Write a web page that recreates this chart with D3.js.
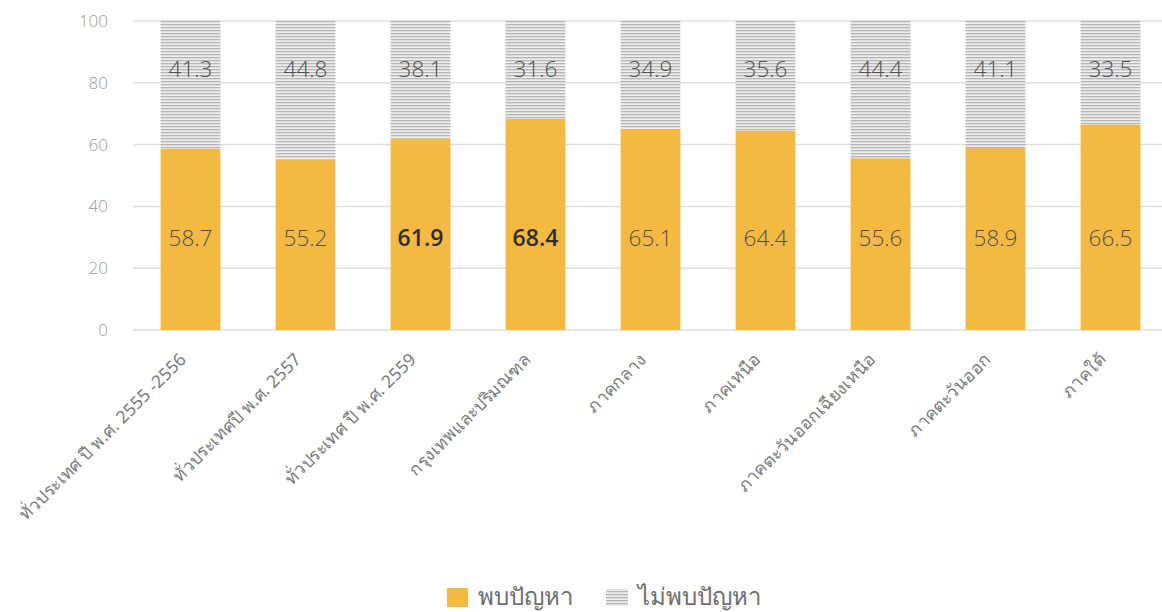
<!DOCTYPE html>
<html>
<head>
<meta charset="utf-8">
<script src="https://cdn.jsdelivr.net/npm/d3@7"></script>
<style>
  html, body { margin: 0; padding: 0; background: #fff; }
  svg { display: block; font-family: "Noto Sans", "Open Sans", sans-serif; }
</style>
</head>
<body>
<svg id="chart" width="1162" height="612"></svg>
<script>
// Survey groups (x categories)
const categories = [
  "ทั่วประเทศ ปี พ.ศ. 2555 -2556",
  "ทั่วประเทศปี พ.ศ. 2557",
  "ทั่วประเทศ ปี พ.ศ. 2559",
  "กรุงเทพและปริมณฑล",
  "ภาคกลาง",
  "ภาคเหนือ",
  "ภาคตะวันออกเฉียงเหนือ",
  "ภาคตะวันออก",
  "ภาคใต้"
];
// Share reporting a problem / no problem (%)
const foundProblem = [58.7, 55.2, 61.9, 68.4, 65.1, 64.4, 55.6, 58.9, 66.5];
const noProblem    = [41.3, 44.8, 38.1, 31.6, 34.9, 35.6, 44.4, 41.1, 33.5];
// Values shown in bold
const emphasised = [false, false, true, true, false, false, false, false, false];
const yTicks = [0, 20, 40, 60, 80, 100];
const seriesNames = ["พบปัญหา", "ไม่พบปัญหา"];

const numFont = "'Open Sans', 'Noto Sans', sans-serif";
const svg = d3.select("#chart");

const x = d3.scaleBand().domain(categories).range([133, 1168])
  .paddingInner(0.48).paddingOuter(0.24);
const y = d3.scaleLinear().domain([0, 100]).range([330, 21]);

// Horizontal hatch for the "no problem" segment
const defs = svg.append("defs");
const pat = defs.append("pattern").attr("id", "hatch")
  .attr("patternUnits", "userSpaceOnUse").attr("width", 6).attr("height", 3);
pat.append("rect").attr("width", 6).attr("height", 3).attr("fill", "#eeeeee");
pat.append("rect").attr("width", 6).attr("height", 1.3).attr("fill", "#b4b4b4");

// Gridlines and y labels
const yAxis = d3.axisLeft(y).tickValues(yTicks).tickSize(0).tickPadding(0);
svg.append("g").attr("transform", "translate(108,0)").call(yAxis)
  .call(g => g.select(".domain").remove())
  .call(g => g.selectAll("text").attr("fill", "#999")
    .attr("font-size", 17).attr("font-family", numFont)
    .attr("font-weight", 300));
svg.append("g").selectAll("line").data(yTicks).join("line")
  .attr("x1", 133).attr("x2", 1162)
  .attr("y1", d => y(d)).attr("y2", d => y(d))
  .attr("stroke", "#dedede").attr("stroke-width", 1.5);

const rows = categories.map((c, i) => ({
  c, a: foundProblem[i], b: noProblem[i], bold: emphasised[i]
}));

// Stacked bars
const bars = svg.append("g");
bars.selectAll("rect.a").data(rows).join("rect").attr("class", "a")
  .attr("x", d => x(d.c)).attr("width", x.bandwidth())
  .attr("y", d => y(d.a)).attr("height", d => y(0) - y(d.a))
  .attr("fill", "#F4B942");
bars.selectAll("rect.b").data(rows).join("rect").attr("class", "b")
  .attr("x", d => x(d.c)).attr("width", x.bandwidth())
  .attr("y", d => y(d.a + d.b)).attr("height", d => y(d.a) - y(d.a + d.b))
  .attr("fill", "url(#hatch)");

// Value labels
const lab = svg.append("g").attr("text-anchor", "middle")
  .attr("font-family", numFont).style("font-stretch", "90%");
lab.selectAll("text.a").data(rows).join("text").attr("class", "a")
  .attr("x", d => x(d.c) + x.bandwidth() / 2)
  .attr("y", y(29.8)).attr("dy", "0.36em")
  .attr("font-size", d => d.bold ? 23 : 22.5)
  .attr("font-weight", d => d.bold ? 600 : 300)
  .attr("fill", d => d.bold ? "#2e2e2e" : "#505050")
  .text(d => d.a.toFixed(1));
lab.selectAll("text.b").data(rows).join("text").attr("class", "b")
  .attr("x", d => x(d.c) + x.bandwidth() / 2)
  .attr("y", y(84.5)).attr("dy", "0.36em")
  .attr("font-size", 22.5).attr("font-weight", 300).attr("fill", "#505050")
  .text(d => d.b.toFixed(1));

// Rotated category labels
svg.append("g").selectAll("text").data(categories).join("text")
  .attr("transform", d => `translate(${x(d) + x.bandwidth() / 2 - 12},352) rotate(-45)`)
  .attr("text-anchor", "end").attr("dy", "0.7em")
  .attr("font-size", 17.5).attr("fill", "#7a7a7a")
  .text(d => d);

// Legend
const leg = svg.append("g").attr("font-size", 24).attr("fill", "#6e6e6e");
leg.append("rect").attr("x", 447).attr("y", 588).attr("width", 21).attr("height", 19)
  .attr("fill", "#F4B942");
leg.append("text").attr("x", 478).attr("y", 597).attr("dy", "0.35em").text(seriesNames[0]);
leg.append("rect").attr("x", 606).attr("y", 589).attr("width", 22).attr("height", 17)
  .attr("fill", "url(#hatch)");
leg.append("text").attr("x", 638).attr("y", 597).attr("dy", "0.35em").text(seriesNames[1]);
</script>
</body>
</html>
